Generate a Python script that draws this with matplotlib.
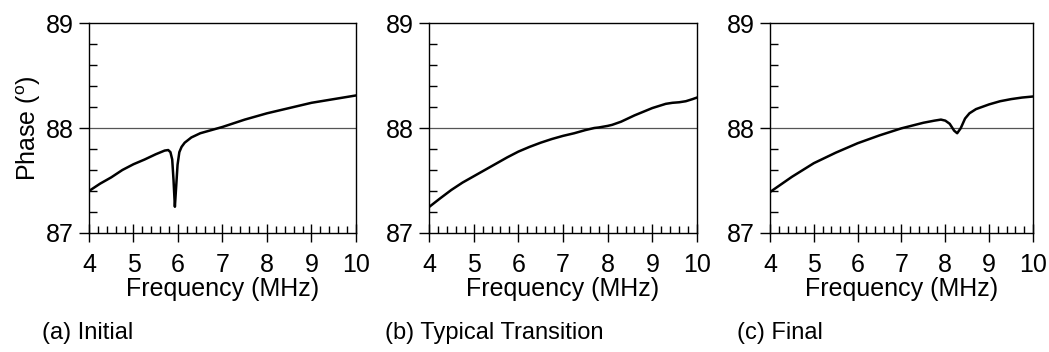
import numpy as np
import matplotlib.pyplot as plt

plt.rcParams['font.family'] = ['Liberation Sans', 'DejaVu Sans']
plt.rcParams['mathtext.default'] = 'regular'

# Panel (a) Initial
freq_a = [4.0, 4.25, 4.5, 4.75, 5.0, 5.25, 5.5, 5.7, 5.78, 5.83, 5.87, 5.90,
          5.93, 5.96, 5.99, 6.03, 6.08, 6.15, 6.3, 6.5, 6.75, 7.0, 7.5, 8.0,
          8.5, 9.0, 9.5, 10.0]
phase_a = [87.40, 87.47, 87.53, 87.60, 87.655, 87.70, 87.75, 87.785, 87.79,
           87.77, 87.70, 87.50, 87.25, 87.45, 87.65, 87.77, 87.82, 87.86,
           87.91, 87.95, 87.98, 88.01, 88.08, 88.14, 88.19, 88.24, 88.275,
           88.31]

# Panel (b) Typical Transition
freq_b = [4.0, 4.25, 4.5, 4.75, 5.0, 5.25, 5.5, 5.75, 6.0, 6.25, 6.5, 6.75,
          7.0, 7.25, 7.5, 7.7, 7.8, 8.0, 8.1, 8.2, 8.3, 8.45, 8.6, 8.8, 9.0,
          9.15, 9.3, 9.45, 9.6, 9.75, 9.9, 10.0]
phase_b = [87.247, 87.33, 87.41, 87.48, 87.54, 87.60, 87.66, 87.72, 87.775,
           87.82, 87.86, 87.895, 87.925, 87.95, 87.98, 88.0, 88.005, 88.02,
           88.03, 88.045, 88.06, 88.09, 88.12, 88.155, 88.19, 88.21, 88.23,
           88.24, 88.245, 88.255, 88.275, 88.29]

# Panel (c) Final
freq_c = [4.0, 4.5, 5.0, 5.5, 6.0, 6.5, 7.0, 7.5, 7.75, 7.9, 8.0, 8.1, 8.2,
          8.27, 8.35, 8.45, 8.55, 8.7, 9.0, 9.25, 9.5, 9.75, 10.0]
phase_c = [87.39, 87.535, 87.665, 87.765, 87.855, 87.93, 87.997, 88.05,
           88.07, 88.08, 88.07, 88.04, 87.975, 87.95, 87.997, 88.09, 88.14,
           88.18, 88.225, 88.255, 88.275, 88.29, 88.30]

captions = ['(a) Initial', '(b) Typical Transition', '(c) Final']
series = [(freq_a, phase_a), (freq_b, phase_b), (freq_c, phase_c)]

W, H = 1049, 352
fig = plt.figure(figsize=(W / 100, H / 100), dpi=100)

# axes boxes in pixels: left, right, top, bottom
boxes = [(89, 356, 23, 233), (429, 697, 23, 233), (770, 1033, 23, 233)]
caption_x = [42, 385, 737]

for i, ((x0, x1, y0, y1), (f, p)) in enumerate(zip(boxes, series)):
    ax = fig.add_axes([x0 / W, 1 - y1 / H, (x1 - x0) / W, (y1 - y0) / H])
    ax.axhline(88, color='#555555', lw=0.9, zorder=1)
    ax.plot(f, p, color='black', lw=1.8, zorder=2)
    ax.set_xlim(4, 10)
    ax.set_ylim(87, 89)
    ax.set_xticks(np.arange(4, 11, 1))
    ax.set_xticks(np.arange(4, 10.01, 0.2), minor=True)
    ax.set_yticks([87, 88, 89])
    ax.set_yticks(np.arange(87, 89.01, 0.2), minor=True)
    ax.tick_params(axis='x', which='major', direction='inout', length=13,
                   width=1, labelsize=18, pad=8)
    ax.tick_params(axis='x', which='minor', direction='in', length=5,
                   width=1)
    ax.tick_params(axis='y', which='major', direction='out', length=7,
                   width=1, labelsize=18, pad=4)
    ax.tick_params(axis='y', which='minor', direction='in', length=6,
                   width=1)
    ax.set_xlabel('Frequency (MHz)', fontsize=18, labelpad=0)
    for s in ax.spines.values():
        s.set_linewidth(1)
    if i == 0:
        ax.set_ylabel('Phase ($^o$)', fontsize=18, labelpad=2)
    fig.text(caption_x[i] / W, 1 - 333 / H, captions[i], fontsize=17,
             ha='left', va='center')

fig.savefig('out.png', dpi=100)
